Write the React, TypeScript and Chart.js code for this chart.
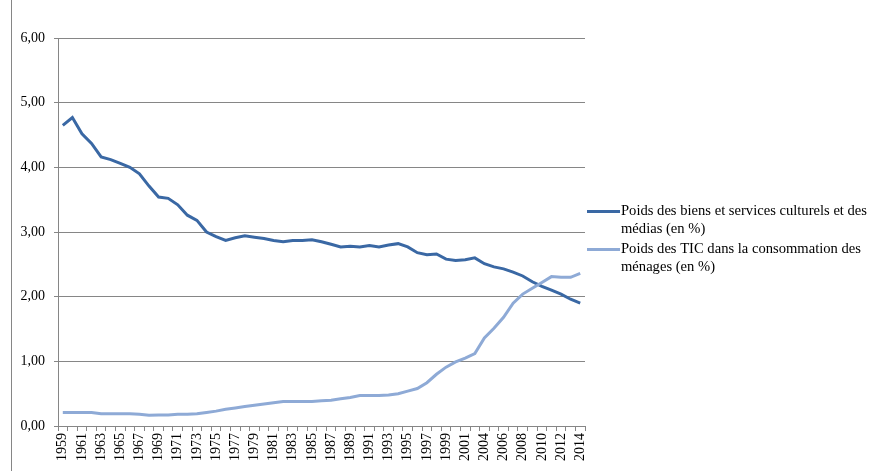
import React, { useEffect, useRef } from "react";
import { Chart, registerables } from "chart.js";

Chart.register(...registerables);

const years: string[] = [
  "1959", "1960", "1961", "1962", "1963", "1964", "1965", "1966", "1967", "1968",
  "1969", "1970", "1971", "1972", "1973", "1974", "1975", "1976", "1977", "1978",
  "1979", "1980", "1981", "1982", "1983", "1984", "1985", "1986", "1987", "1988",
  "1989", "1990", "1991", "1992", "1993", "1994", "1995", "1996", "1997", "1998",
  "1999", "2000", "2001", "2003", "2004", "2005", "2006", "2007", "2008", "2009",
  "2010", "2011", "2012", "2013", "2014",
];

const culturels: number[] = [
  4.65, 4.77, 4.52, 4.37, 4.16, 4.12, 4.06, 4.0, 3.9, 3.71,
  3.54, 3.52, 3.42, 3.26, 3.18, 3.0, 2.93, 2.87, 2.91, 2.94,
  2.92, 2.9, 2.87, 2.85, 2.87, 2.87, 2.88, 2.85, 2.81, 2.77,
  2.78, 2.77, 2.79, 2.77, 2.8, 2.82, 2.77, 2.68, 2.65, 2.66,
  2.58, 2.56, 2.57, 2.6, 2.51, 2.46, 2.43, 2.38, 2.32, 2.23,
  2.16, 2.1, 2.04, 1.96, 1.9,
];

const tic: number[] = [
  0.21, 0.21, 0.21, 0.21, 0.19, 0.19, 0.19, 0.19, 0.18, 0.165,
  0.17, 0.17, 0.18, 0.18, 0.19, 0.21, 0.23, 0.26, 0.28, 0.3,
  0.32, 0.34, 0.36, 0.38, 0.38, 0.38, 0.38, 0.39, 0.4, 0.42,
  0.44, 0.47, 0.47, 0.47, 0.48, 0.5, 0.54, 0.58, 0.67, 0.8,
  0.91, 0.99, 1.05, 1.12, 1.36, 1.51, 1.68, 1.9, 2.04, 2.13,
  2.22, 2.31, 2.3, 2.3, 2.36,
];

const seriesLabels: string[] = [
  "Poids des biens et services culturels et des médias (en %)",
  "Poids des TIC dans la consommation des ménages (en %)",
];

const seriesColors: string[] = ["#3a68a4", "#8eaad6"];

const yTicks: number[] = [0, 1, 2, 3, 4, 5, 6];

const FONT = '"Liberation Serif", "Times New Roman", serif';
const GRID = "#868686";

function wrapText(ctx: CanvasRenderingContext2D, text: string, maxW: number): string[] {
  const words = text.split(" ");
  const lines: string[] = [];
  let cur = "";
  for (const w of words) {
    const test = cur ? cur + " " + w : w;
    if (ctx.measureText(test).width > maxW && cur) {
      lines.push(cur);
      cur = w;
    } else {
      cur = test;
    }
  }
  if (cur) lines.push(cur);
  return lines;
}

const legendPlugin = {
  id: "wrappedLegend",
  afterDraw(chart: any) {
    const ctx: CanvasRenderingContext2D = chart.ctx;
    const area = chart.chartArea;
    ctx.save();
    ctx.font = `14.6px ${FONT}`;
    ctx.textBaseline = "middle";
    ctx.textAlign = "left";
    const x0 = area.right + 2;
    const sampleW = 33;
    const textX = x0 + sampleW + 1;
    const maxW = chart.width - textX - 2;
    const lineH = 17.5;
    let y = area.top + 173.5;
    chart.data.datasets.forEach((ds: any) => {
      const lines = wrapText(ctx, ds.label, maxW);
      ctx.strokeStyle = ds.borderColor;
      ctx.lineWidth = 3;
      ctx.beginPath();
      ctx.moveTo(x0, y);
      ctx.lineTo(x0 + sampleW, y);
      ctx.stroke();
      ctx.fillStyle = "#000";
      lines.forEach((ln, j) => ctx.fillText(ln, textX, y + j * lineH));
      y += lines.length * lineH + 3;
    });
    ctx.restore();
  },
};

const borderPlugin = {
  id: "leftBorder",
  beforeDraw(chart: any) {
    const ctx: CanvasRenderingContext2D = chart.ctx;
    ctx.save();
    ctx.fillStyle = "#ffffff";
    ctx.fillRect(0, 0, chart.width, chart.height);
    ctx.strokeStyle = GRID;
    ctx.lineWidth = 1;
    ctx.beginPath();
    ctx.moveTo(11.5, 0);
    ctx.lineTo(11.5, chart.height);
    ctx.stroke();
    ctx.restore();
  },
};

export default function App() {
  const canvasRef = useRef<HTMLCanvasElement | null>(null);

  useEffect(() => {
    if (!canvasRef.current) return;
    const chart = new Chart(canvasRef.current, {
      type: "line",
      data: {
        labels: years,
        datasets: [
          {
            label: seriesLabels[0],
            data: culturels,
            borderColor: seriesColors[0],
            backgroundColor: seriesColors[0],
            borderWidth: 3,
            pointRadius: 0,
            tension: 0,
            order: 1,
          },
          {
            label: seriesLabels[1],
            data: tic,
            borderColor: seriesColors[1],
            backgroundColor: seriesColors[1],
            borderWidth: 3,
            pointRadius: 0,
            tension: 0,
            order: 0,
          },
        ],
      },
      options: {
        responsive: false,
        animation: false,
        layout: { padding: { top: 38, right: 293, left: 0, bottom: 0 } },
        plugins: {
          legend: { display: false },
          tooltip: { enabled: false },
        },
        scales: {
          x: {
            type: "category",
            offset: true,
            grid: {
              display: true,
              drawOnChartArea: false,
              drawTicks: true,
              tickLength: 5,
              offset: true,
              color: GRID,
            },
            border: { display: true, color: GRID, width: 1 },
            ticks: {
              autoSkip: false,
              minRotation: 90,
              maxRotation: 90,
              padding: 2,
              color: "#000",
              font: { family: FONT, size: 14 },
              callback: (_v: any, idx: number) => (idx % 2 === 0 ? years[idx] : ""),
            },
            afterFit: (scale: any) => {
              scale.height = 45;
            },
          },
          y: {
            min: yTicks[0],
            max: yTicks[yTicks.length - 1],
            grid: {
              color: GRID,
              lineWidth: 1,
              drawTicks: true,
              tickLength: 4,
            },
            border: { display: true, color: GRID, width: 1 },
            afterBuildTicks: (scale: any) => {
              scale.ticks = yTicks.map((v) => ({ value: v }));
            },
            ticks: {
              padding: 9,
              color: "#000",
              font: { family: FONT, size: 14 },
              callback: (v: any) => Number(v).toFixed(2).replace(".", ","),
            },
            afterFit: (scale: any) => {
              scale.width = 58;
            },
          },
        },
      },
      plugins: [borderPlugin, legendPlugin],
    });
    return () => chart.destroy();
  }, []);

  return (
    <div style={{ position: "fixed", left: 0, top: 0, width: 878, height: 471, background: "#fff" }}>
      <canvas ref={canvasRef} width={878} height={471} style={{ display: "block" }} />
    </div>
  );
}
